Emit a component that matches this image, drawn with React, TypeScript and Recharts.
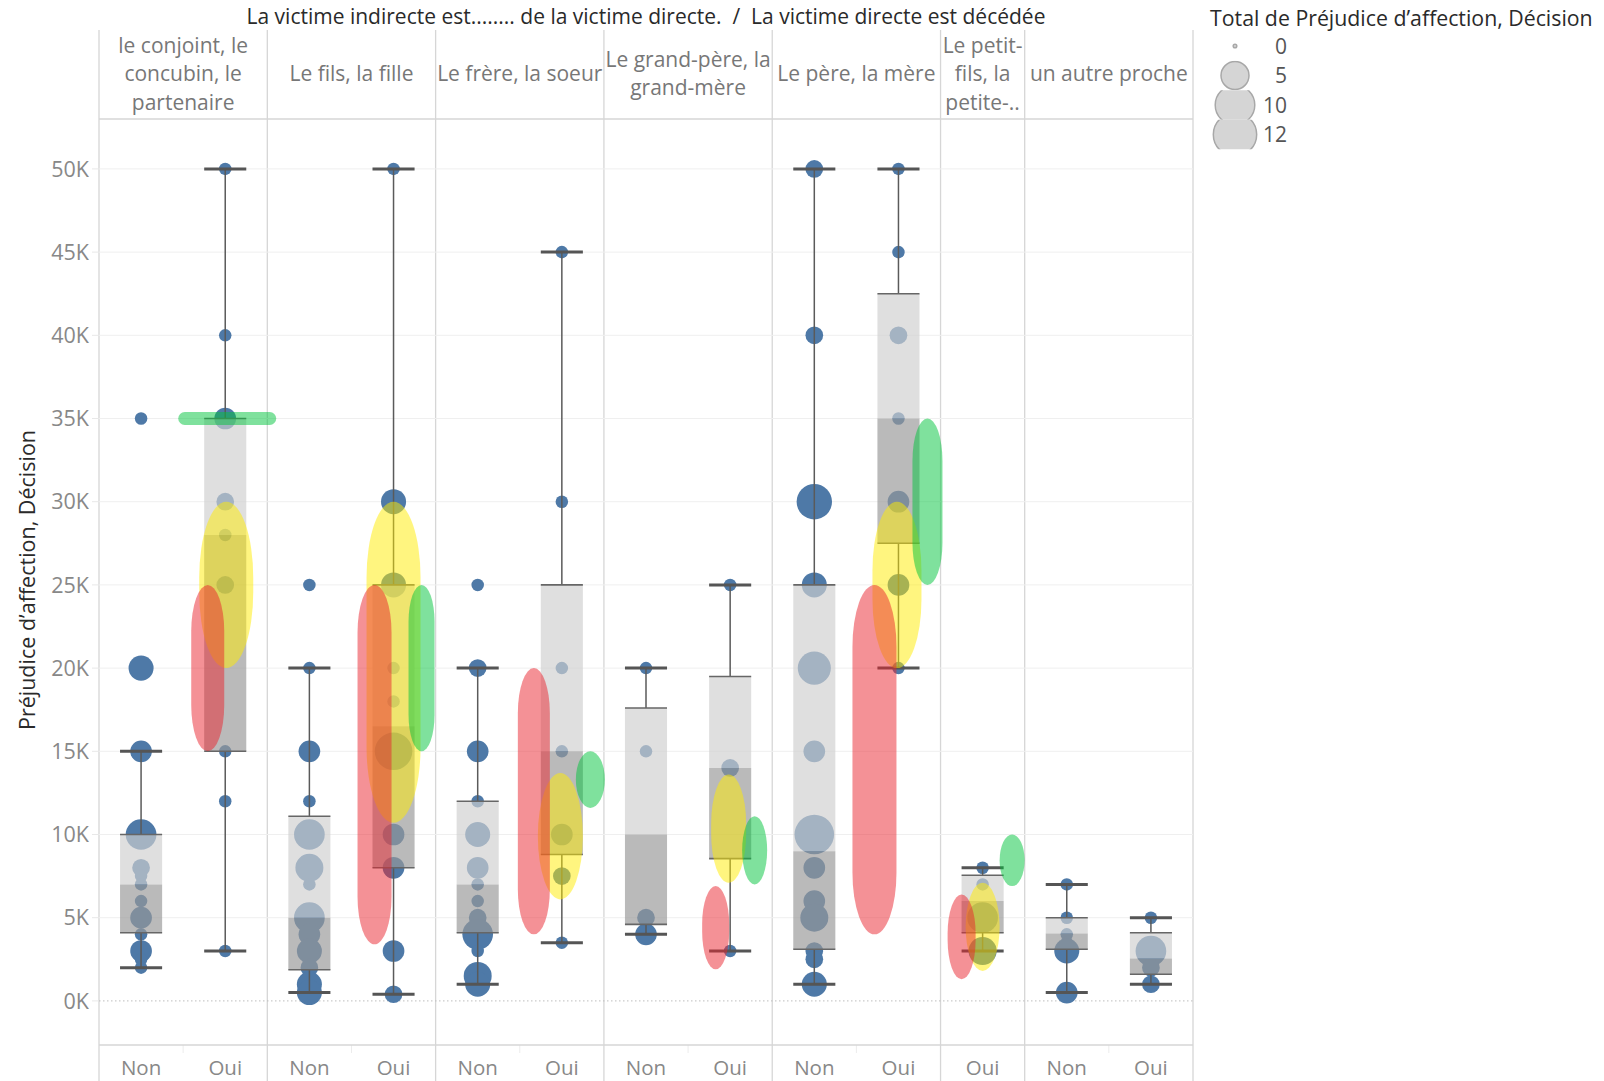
import React from "react";
import {
  ComposedChart,
  Scatter,
  XAxis,
  YAxis,
  CartesianGrid,
  ReferenceArea,
  ReferenceLine,
} from "recharts";

const W = 1604;
const H = 1081;
const PLOT_LEFT = 99;
const PLOT_RIGHT = 1193;
const PLOT_TOP = 119;
const PLOT_BOTTOM = 1045;
const FONT = "'Open Sans', 'DejaVu Sans', sans-serif";

// one slot per x position (Non / Oui inside each relationship)
const slotLabels = ["Non", "Oui", "Non", "Oui", "Non", "Oui", "Non", "Oui", "Non", "Oui", "Oui", "Non", "Oui"];

const panels = [
  { lines: ["le conjoint, le", "concubin, le", "partenaire"], from: 0, to: 2 },
  { lines: ["Le fils, la fille"], from: 2, to: 4 },
  { lines: ["Le frère, la soeur"], from: 4, to: 6 },
  { lines: ["Le grand-père, la", "grand-mère"], from: 6, to: 8 },
  { lines: ["Le père, la mère"], from: 8, to: 10 },
  { lines: ["Le petit-", "fils, la", "petite-.."], from: 10, to: 11 },
  { lines: ["un autre proche"], from: 11, to: 13 },
];

const yTicks = [0, 5000, 10000, 15000, 20000, 25000, 30000, 35000, 40000, 45000, 50000];

// box plot statistics per slot
const whiskerLow = [2000, 3000, 500, 400, 1000, 3500, 4000, 3000, 1000, 20000, 3000, 500, 1000];
const q1 = [4100, 15000, 1875, 8000, 4100, 8800, 4600, 8550, 3100, 27500, 4100, 3100, 1600];
const median = [7000, 28000, 5000, 16500, 7000, 15000, 10000, 14000, 9000, 35000, 6000, 4050, 2550];
const q3 = [10000, 35000, 11100, 25000, 12000, 25000, 17600, 19500, 25000, 42500, 7550, 5000, 4100];
const whiskerHigh = [15000, 50000, 20000, 50000, 20000, 45000, 20000, 25000, 50000, 50000, 8000, 7000, 5000];

// decisions per slot: [amount, number of decisions]
const decisions: [number, number][][] = [
  [[35000, 1], [20000, 4], [15000, 3], [10000, 6], [8000, 2], [7500, 1], [7000, 1], [6000, 1], [5000, 3], [4000, 1], [3000, 3], [2500, 1], [2000, 1]],
  [[50000, 1], [40000, 1], [35000, 3], [30000, 2], [28000, 1], [25000, 2], [15000, 1], [12000, 1], [3000, 1]],
  [[25000, 1], [20000, 1], [15000, 3], [12000, 1], [10000, 6], [8000, 5], [7000, 1], [5000, 6], [4000, 3], [3000, 4], [2000, 2], [1000, 4], [500, 4]],
  [[50000, 1], [30000, 4], [25000, 4], [20000, 1], [18000, 1], [15000, 9], [10000, 3], [8000, 3], [3000, 3], [400, 2]],
  [[25000, 1], [20000, 2], [15000, 3], [12000, 1], [10000, 4], [8000, 3], [7000, 1], [6000, 1], [5000, 2], [4000, 6], [3000, 1], [1500, 5], [1000, 4]],
  [[45000, 1], [30000, 1], [20000, 1], [15000, 1], [10000, 3], [7500, 2], [3500, 1]],
  [[20000, 1], [15000, 1], [5000, 2], [4000, 3]],
  [[25000, 1], [14000, 2], [3000, 1]],
  [[50000, 2], [40000, 2], [30000, 8], [25000, 4], [20000, 7], [15000, 3], [10000, 10], [8000, 3], [6000, 3], [5000, 5], [3000, 2], [2500, 2], [1000, 4]],
  [[50000, 1], [45000, 1], [40000, 2], [35000, 1], [30000, 3], [25000, 3], [20000, 1]],
  [[8000, 1], [7000, 1], [5000, 6], [3000, 5]],
  [[7000, 1], [5000, 1], [4000, 1], [3500, 1], [3000, 4], [500, 3]],
  [[5000, 1], [3000, 6], [2000, 2], [1000, 2]],
];

// reference ranges: [slot, low, high]
const redRange: [number, number, number][] = [
  [1, 15000, 25000], [3, 3400, 25000], [5, 4000, 20000], [7, 1900, 6900], [9, 4000, 25000], [10, 1300, 6400],
];
const yellowRange: [number, number, number][] = [
  [1, 20000, 30000], [3, 10700, 30000], [5, 6100, 13700], [7, 7100, 13600], [9, 20000, 30000], [10, 1800, 7100],
];
const greenRange: [number, number, number][] = [
  [1, 35000, 35000], [3, 15000, 25000], [5, 11600, 15000], [7, 7000, 11100], [9, 25000, 35000], [10, 6900, 10000],
];

const legendSizes = [0, 5, 10, 12];

// pixel geometry of the range capsules, relative to slot centre (style only)
const bandEdges: Record<string, number[]> = {
  "red-1": [-34, -1], "red-3": [-36, -2], "red-5": [-44, -12], "red-7": [-28, -1], "red-9": [-46, -2], "red-10": [-35, -7],
  "yellow-1": [-26, 28], "yellow-3": [-27, 27], "yellow-5": [-24, 21], "yellow-7": [-19, 16], "yellow-9": [-26, 23], "yellow-10": [-17, 17],
  "green-1": [-47, 51, 13], "green-3": [15, 41], "green-5": [14, 43], "green-7": [12, 37], "green-9": [14, 44], "green-10": [17, 42],
};

const BLUE = "#4e79a7";
const radius = (n: number) => (n === 0 ? 1.8 : 6.26 * Math.sqrt(n));
const slotPx = (b: number) => PLOT_LEFT + ((PLOT_RIGHT - PLOT_LEFT) * b) / slotLabels.length;

const dots = decisions.flatMap((list, i) => list.map(([v, n]) => ({ x: i + 0.5, y: v, n })));

const DotShape = (p: any) => <circle cx={p.cx} cy={p.cy} r={radius(p.payload.n)} fill={BLUE} />;

const bandShape = (key: string, fill: string) => (p: any) => {
  const g = bandEdges[key];
  const cx = p.x + p.width / 2;
  if (g.length === 3) {
    const [l, r, t] = g;
    const ym = p.y + p.height / 2;
    return <rect x={cx + l} y={ym - t / 2} width={r - l} height={t} rx={t / 2} ry={t / 2} fill={fill} fillOpacity={0.5} />;
  }
  const [l, r] = g;
  const w = r - l;
  return (
    <rect x={cx + l} y={p.y} width={w} height={p.height} rx={w / 2} ry={Math.min(p.height / 2, w * 1.4)} fill={fill} fillOpacity={0.5} />
  );
};

const bands = [
  { name: "yellow", data: yellowRange, fill: "rgb(255,235,0)", z: 640 },
  { name: "red", data: redRange, fill: "rgb(233,35,45)", z: 650 },
  { name: "green", data: greenRange, fill: "rgb(0,195,60)", z: 660 },
];

const boundaries = [0, 2, 4, 6, 8, 10, 11, 13];
const innerSeps = [1, 3, 5, 7, 9, 12];

export default function App() {
  const plotCx = (PLOT_LEFT + PLOT_RIGHT) / 2;
  return (
    <div style={{ position: "absolute", left: 0, top: 0, width: W, height: H, background: "#fff", fontFamily: FONT }}>
      <svg width={W} height={H} style={{ position: "absolute", left: 0, top: 0 }}>
        {boundaries.map((b) => (
          <line key={b} x1={slotPx(b)} x2={slotPx(b)} y1={30} y2={H} stroke="#d6d6d6" strokeWidth={1.3} />
        ))}
        <line x1={PLOT_LEFT} x2={PLOT_RIGHT} y1={PLOT_TOP} y2={PLOT_TOP} stroke="#d6d6d6" strokeWidth={1.3} />
        {innerSeps.map((b) => (
          <line key={b} x1={slotPx(b)} x2={slotPx(b)} y1={PLOT_BOTTOM} y2={PLOT_BOTTOM + 8} stroke="#ececec" />
        ))}
      </svg>
      <div style={{ position: "absolute", left: 0, top: 0 }}>
        <ComposedChart width={W} height={H} margin={{ top: PLOT_TOP, right: W - PLOT_RIGHT, bottom: 0, left: 0 }}>
          <CartesianGrid vertical={false} stroke="#efefef" horizontalValues={yTicks.slice(1)} />
          <XAxis
            type="number"
            dataKey="x"
            domain={[0, slotLabels.length]}
            ticks={slotLabels.map((_, i) => i + 0.5)}
            tickFormatter={(v: number) => slotLabels[Math.floor(v)]}
            height={H - PLOT_BOTTOM}
            axisLine={{ stroke: "#d6d6d6", strokeWidth: 1.3 }}
            tickLine={false}
            tickSize={0}
            tickMargin={15}
            tick={{ fill: "#888", fontSize: 20.5, fontFamily: FONT }}
            interval={0}
          />
          <YAxis
            type="number"
            dataKey="y"
            domain={[-2650, 53000]}
            allowDataOverflow
            ticks={yTicks}
            tickFormatter={(v: number) => `${v / 1000}K`}
            width={PLOT_LEFT}
            axisLine={false}
            tickSize={7}
            tickMargin={3}
            tickLine={{ stroke: "#e8e8e8" }}
            tick={{ fill: "#888", fontSize: 21.5, fontFamily: FONT }}
          />
          <ReferenceLine y={0} stroke="#bdbdbd" strokeDasharray="1.5 2.5" />
          <Scatter data={dots} shape={DotShape} isAnimationActive={false} />
          {slotLabels.map((_, i) => (
            <ReferenceArea key={`lb${i}`} x1={i + 0.25} x2={i + 0.75} y1={median[i]} y2={q3[i]} fill="#d0d0d0" fillOpacity={0.67} stroke="none" ifOverflow="visible" zIndex={610} />
          ))}
          {slotLabels.map((_, i) => (
            <ReferenceArea key={`db${i}`} x1={i + 0.25} x2={i + 0.75} y1={q1[i]} y2={median[i]} fill="#989898" fillOpacity={0.67} stroke="none" ifOverflow="visible" zIndex={611} />
          ))}
          {slotLabels.map((_, i) => (
            <React.Fragment key={`wh${i}`}>
              <ReferenceLine segment={[{ x: i + 0.5, y: whiskerLow[i] }, { x: i + 0.5, y: q1[i] }]} stroke="#5a5a5a" strokeWidth={1.5} zIndex={620} />
              <ReferenceLine segment={[{ x: i + 0.5, y: q3[i] }, { x: i + 0.5, y: whiskerHigh[i] }]} stroke="#5a5a5a" strokeWidth={1.5} zIndex={620} />
              <ReferenceLine segment={[{ x: i + 0.25, y: whiskerLow[i] }, { x: i + 0.75, y: whiskerLow[i] }]} stroke="#555" strokeWidth={3} zIndex={620} />
              <ReferenceLine segment={[{ x: i + 0.25, y: whiskerHigh[i] }, { x: i + 0.75, y: whiskerHigh[i] }]} stroke="#555" strokeWidth={3} zIndex={620} />
              <ReferenceLine segment={[{ x: i + 0.25, y: q1[i] }, { x: i + 0.75, y: q1[i] }]} stroke="#666" strokeWidth={1.6} zIndex={620} />
              <ReferenceLine segment={[{ x: i + 0.25, y: q3[i] }, { x: i + 0.75, y: q3[i] }]} stroke="#666" strokeWidth={1.6} zIndex={620} />
            </React.Fragment>
          ))}
          {bands.map((b) =>
            b.data.map(([slot, lo, hi]) => (
              <ReferenceArea
                key={`${b.name}${slot}`}
                x1={slot}
                x2={slot + 1}
                y1={lo}
                y2={hi}
                ifOverflow="visible"
                zIndex={b.z}
                shape={bandShape(`${b.name}-${slot}`, b.fill)}
              />
            ))
          )}
        </ComposedChart>
      </div>
      <svg width={W} height={H} style={{ position: "absolute", left: 0, top: 0, pointerEvents: "none" }}>
        <text x={plotCx} y={24} textAnchor="middle" fontSize={21} fill="#2a2a2a" fontFamily={FONT} style={{ whiteSpace: "pre" }}>
          {"La victime indirecte est........ de la victime directe.  /  La victime directe est décédée"}
        </text>
        {panels.map((p) => {
          const cx = (slotPx(p.from) + slotPx(p.to)) / 2;
          const start = 73.6 - ((p.lines.length - 1) * 28.6) / 2;
          return p.lines.map((l, k) => (
            <text key={l} x={cx} y={start + k * 28.6 + 7.5} textAnchor="middle" fontSize={21} fill="#777" fontFamily={FONT}>
              {l}
            </text>
          ));
        })}
        <text transform="translate(35,580) rotate(-90)" textAnchor="middle" fontSize={21.5} fill="#2a2a2a" fontFamily={FONT}>
          Préjudice d’affection, Décision
        </text>
        <text x={1210} y={26} fontSize={21.3} fill="#2a2a2a" fontFamily={FONT}>
          Total de Préjudice d’affection, Décision
        </text>
        <defs>
          {legendSizes.map((s, k) => (
            <clipPath key={s} id={`lg${k}`}>
              <rect x={1200} y={46 + k * 29.5 - 14.75} width={80} height={29.5} />
            </clipPath>
          ))}
        </defs>
        {legendSizes.map((s, k) => (
          <g key={s}>
            <circle cx={1235} cy={46 + k * 29.5} r={radius(s)} fill="#d5d5d5" stroke="#a8a8a8" strokeWidth={1.5} clipPath={`url(#lg${k})`} />
            <text x={1287} y={46 + k * 29.5 + 7.5} textAnchor="end" fontSize={21} fill="#555" fontFamily={FONT}>
              {s}
            </text>
          </g>
        ))}
      </svg>
    </div>
  );
}
